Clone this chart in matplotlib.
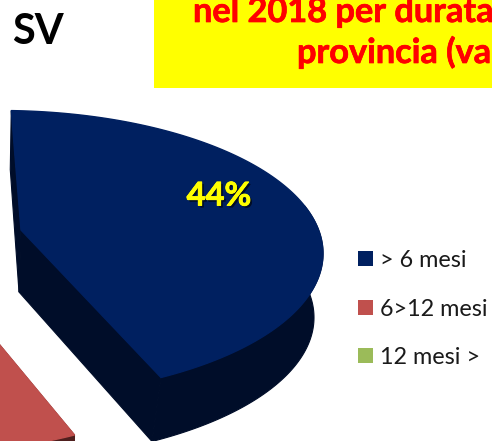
import numpy as np
import matplotlib
matplotlib.use("Agg")
import matplotlib.pyplot as plt
import matplotlib.patheffects as pe
from matplotlib.patches import Rectangle

# dati (solo 44% si legge, il resto e' stimato: le altre fette sono fuori quadro)
categorie = ["> 6 mesi", "6>12 mesi", "12 mesi >"]
quote = [44, 38, 18]
etichetta = "44%"
titolo_righe = ["nel 2018 per durata", "provincia (va"]
provincia = "SV"

colori = ["#002060", "#C0504D", "#9BBB59"]
colori_scuri = ["#000D29", "#4F1F1E", "#3E4B24"]

fig = plt.figure(figsize=(4.92, 4.41), dpi=100)
ax = fig.add_axes([0, 0, 1, 1])
ax.set_xlim(0, 492)
ax.set_ylim(441, 0)
ax.axis("off")

A, B = 323, 143            # semiassi dell'ellisse
PROSP = 0.935              # la prospettiva schiaccia l'angolo
ALTO = np.array([-9, 64])  # spessore del bordo


def fetta(centro, apice, inizio, quota, col, scuro):
    fine = inizio - quota / 100 * 360 * PROSP
    t = np.radians(np.linspace(inizio, fine, 200))
    arco = np.c_[centro[0] + A * np.cos(t), centro[1] - B * np.sin(t)]
    apice = np.array(apice)

    # bordo esterno, solo dove si vede
    vis = np.degrees(t) < 20
    parete = np.vstack([arco[vis], (arco[vis] + ALTO)[::-1]])
    ax.fill(parete[:, 0], parete[:, 1], color=scuro, lw=0.8)
    ap_b = apice + [-2, 62]
    fronte = np.array([arco[-1], apice, ap_b, arco[-1] + ALTO])
    ax.fill(fronte[:, 0], fronte[:, 1], color=scuro, lw=0.8)
    lato = np.array([arco[0], arco[0] + [-1, 59], ap_b, apice])
    ax.fill(lato[:, 0], lato[:, 1], color=scuro, lw=0.8)

    # faccia superiore
    faccia = np.vstack([apice, arco])
    ax.fill(faccia[:, 0], faccia[:, 1], color=col, lw=1)
    return fine


fine = fetta((0, 253.5), (21, 230), 88, quote[0], colori[0], colori_scuri[0])
# la seconda fetta e' staccata, si vede solo la punta in basso a sinistra
fetta((-86.5, 311), (-40, 297), fine, quote[1], colori[1], colori_scuri[1])

ax.text(219, 196, etichetta, color="#FFFF00", fontsize=23.5, fontweight="bold",
        family="Lato", ha="center", va="center",
        path_effects=[pe.withSimplePatchShadow(offset=(1.5, -1.5), shadow_rgbFace="black", alpha=0.6),
                      pe.withStroke(linewidth=0.6, foreground="#FFFF00")])

# riquadro titolo
ax.add_patch(Rectangle((154, -2), 340, 90, color="#FFFF00", lw=0))
spesso = [pe.withStroke(linewidth=0.5, foreground="#FF0000")]
ax.text(193, 22, titolo_righe[0], color="#FF0000", fontsize=24.7, fontweight="bold",
        family="Lato", ha="left", va="baseline", path_effects=spesso)
ax.text(297, 63, titolo_righe[1], color="#FF0000", fontsize=24.7, fontweight="bold",
        family="Lato", ha="left", va="baseline", path_effects=spesso)

ax.text(12, 44, provincia, color="black", fontsize=30, fontweight="bold",
        family="Lato", ha="left", va="baseline")

# legenda
y_leg = [251, 300, 348]
for nome, col, y in zip(categorie, colori, y_leg):
    ax.add_patch(Rectangle((358, y), 15, 15, color=col, lw=0))
    ax.text(380, y + 16, nome, color="#1a1a1a", fontsize=16.8, family="Lato",
            ha="left", va="baseline")

fig.savefig("out.png", dpi=100)
